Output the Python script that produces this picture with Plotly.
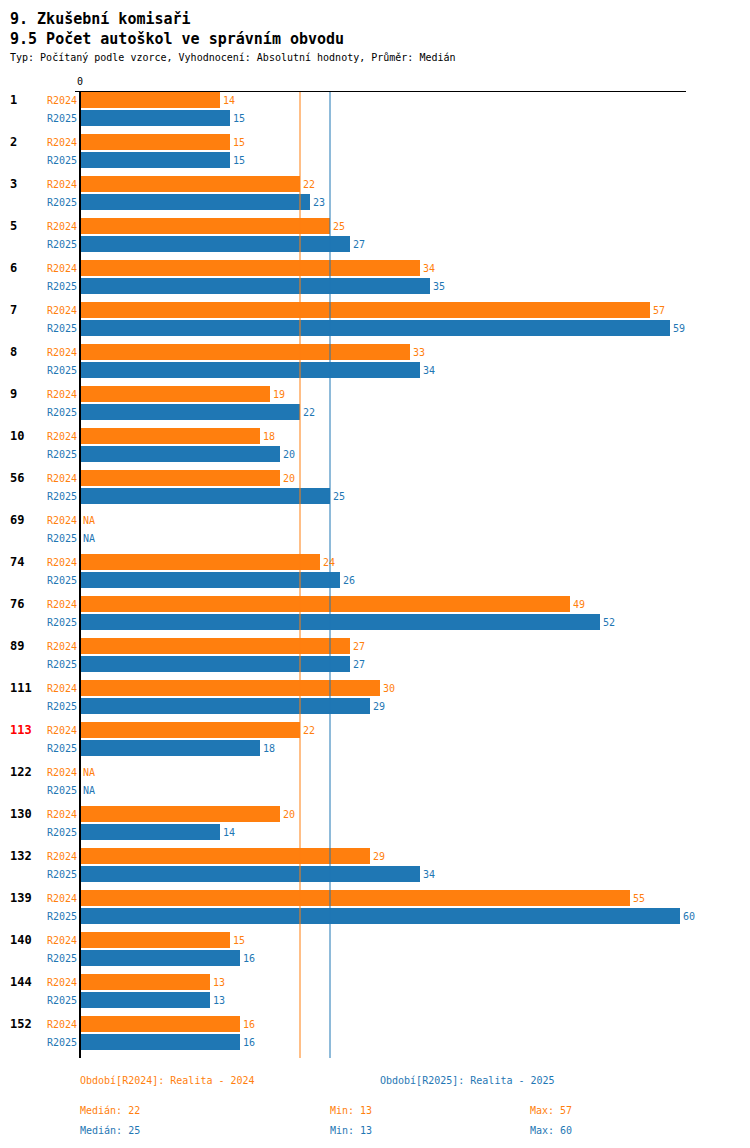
import numpy as np
import plotly.graph_objects as go

# obvody a hodnoty
obvody = ["1", "2", "3", "5", "6", "7", "8", "9", "10", "56", "69", "74", "76", "89",
          "111", "113", "122", "130", "132", "139", "140", "144", "152"]
r2024 = [14, 15, 22, 25, 34, 57, 33, 19, 18, 20, None, 24, 49, 27, 30, 22, None, 20, 29, 55, 15, 13, 16]
r2025 = [15, 15, 23, 27, 35, 59, 34, 22, 20, 25, None, 26, 52, 27, 29, 18, None, 14, 34, 60, 16, 13, 16]
zvyrazneny = "113"

ORANZ = "#ff7f0e"
MODRA = "#1f77b4"
FONT = "DejaVu Sans Mono"

# stranka ma okraj 8px, tak vse posunu
OFF = 8
W, H = 750, 1148
PW, PH = 611, 966
ML, MT = 75 - OFF, 92 - OFF
MR, MB = W - ML - PW, H - MT - PH


def px_x(p):
    return (p - OFF - ML) / PW


def px_y(p):
    return (H - MB - (p - OFF)) / PH


n = len(obvody)
krok = 42
y24 = [krok * i + 8 for i in range(n)]
y25 = [krok * i + 26 for i in range(n)]


def cisla(v):
    return np.array([np.nan if a is None else a for a in v], dtype=float)


a24, a25 = cisla(r2024), cisla(r2025)
med24, med25 = np.nanmedian(a24), np.nanmedian(a25)

fig = go.Figure()
fig.add_trace(go.Bar(x=a24, y=y24, orientation="h", width=16, marker_color=ORANZ,
                     marker_line_width=0, hoverinfo="skip"))
fig.add_trace(go.Bar(x=a25, y=y25, orientation="h", width=16, marker_color=MODRA,
                     marker_line_width=0, hoverinfo="skip"))

anots = []
for arr, ys, barva in [(a24, y24, ORANZ), (a25, y25, MODRA)]:
    for v, y in zip(arr, ys):
        anots.append(dict(xref="x", yref="y", x=0 if np.isnan(v) else v, y=y,
                          xanchor="left", yanchor="middle", xshift=1,
                          text="NA" if np.isnan(v) else str(int(v)), showarrow=False,
                          font=dict(family=FONT, size=10, color=barva)))

for i, ob in enumerate(obvody):
    anots.append(dict(xref="paper", yref="y", x=px_x(8), y=y24[i], xanchor="left", yanchor="middle",
                      text="<b>%s</b>" % ob, showarrow=False,
                      font=dict(family=FONT, size=12, color="red" if ob == zvyrazneny else "black")))
    anots.append(dict(xref="x", yref="y", x=0, y=y24[i], xanchor="right", xshift=-1, yanchor="middle",
                      text="R2024", showarrow=False, font=dict(family=FONT, size=10, color=ORANZ)))
    anots.append(dict(xref="x", yref="y", x=0, y=y25[i], xanchor="right", xshift=-1, yanchor="middle",
                      text="R2025", showarrow=False, font=dict(family=FONT, size=10, color=MODRA)))


def txt(x, y, t, size=10, color="black", anchor="middle"):
    anots.append(dict(xref="paper", yref="paper", x=px_x(x), y=px_y(y), xanchor="left", yanchor=anchor,
                      text=t, showarrow=False, font=dict(family=FONT, size=size, color=color)))


txt(OFF, OFF, "<b>9. Zkušební komisaři</b>", 15, anchor="top")
txt(OFF, 39, "<b>9.5 Počet autoškol ve správním obvodu</b>", 15)
txt(OFF, 58, "Typ: Počítaný podle vzorce, Vyhodnocení: Absolutní hodnoty, Průměr: Medián", 10)
txt(78, 1080, "Období[R2024]: Realita - 2024", 10, ORANZ)
txt(378, 1080, "Období[R2025]: Realita - 2025", 10, MODRA)
txt(78, 1110, "Medián: %d" % med24, 10, ORANZ)
txt(328, 1110, "Min: %d" % np.nanmin(a24), 10, ORANZ)
txt(528, 1110, "Max: %d" % np.nanmax(a24), 10, ORANZ)
txt(78, 1130, "Medián: %d" % med25, 10, MODRA)
txt(328, 1130, "Min: %d" % np.nanmin(a25), 10, MODRA)
txt(528, 1130, "Max: %d" % np.nanmax(a25), 10, MODRA)

shapes = [
    dict(type="line", xref="x", yref="paper", x0=med24, x1=med24, y0=0, y1=1, line=dict(color=ORANZ, width=1)),
    dict(type="line", xref="x", yref="paper", x0=med25, x1=med25, y0=0, y1=1, line=dict(color=MODRA, width=1)),
    dict(type="line", xref="x", yref="paper", x0=0, x1=0, y0=0, y1=1, line=dict(color="black", width=2)),
]

fig.update_layout(
    width=W, height=H, margin=dict(l=ML, r=MR, t=MT, b=MB),
    plot_bgcolor="white", paper_bgcolor="white", showlegend=False,
    barmode="overlay", annotations=anots, shapes=shapes,
    xaxis=dict(range=[-0.5, 60.6], side="top", showgrid=False, zeroline=False,
               showline=True, linecolor="black", linewidth=1,
               tickvals=[0], ticktext=["0"], ticks="", ticklabelstandoff=2,
               tickfont=dict(family=FONT, size=10, color="black")),
    yaxis=dict(range=[PH, 0], showgrid=False, zeroline=False, showticklabels=False, showline=False),
)

fig.write_html("out.html")
